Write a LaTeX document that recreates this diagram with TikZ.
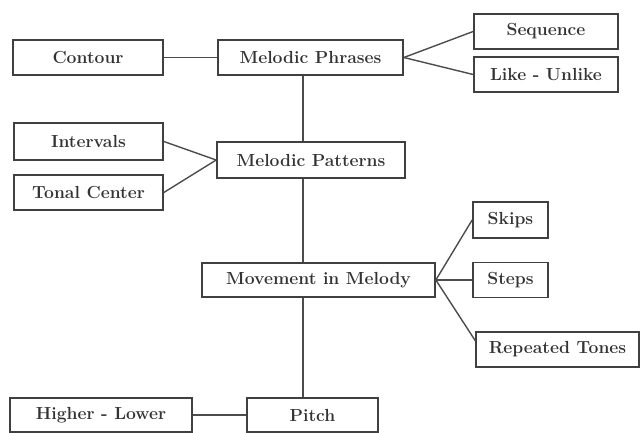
\documentclass[tikz,border=0pt]{standalone}
\usetikzlibrary{calc}
\begin{document}
\begin{tikzpicture}[x=1pt,y=-1pt,
  box/.style={draw=black!75, line width=1.7pt, rectangle, inner sep=0pt,
    font=\fontsize{17.5}{19}\selectfont\bfseries, text=black!80},
  link/.style={draw=black!70, line width=1.4pt}]
\useasboundingbox (0,0) rectangle (642,433);
\coordinate (spine) at (303,0);
\node[box, minimum width=150pt, minimum height=35pt] (contour) at (88,57.5) {Contour};
\node[box, minimum width=185pt, minimum height=35pt] (phr) at (310.5,57.5) {Melodic Phrases};
\node[box, minimum width=144pt, minimum height=35pt] (seq) at (546,31.5) {Sequence};
\node[box, minimum width=144pt, minimum height=35pt] (like) at (546,74.5) {Like - Unlike};
\node[box, minimum width=149pt, minimum height=37pt] (int) at (88.5,141.5) {Intervals};
\node[box, minimum width=149pt, minimum height=35pt] (tonal) at (88.5,192.5) {Tonal Center};
\node[box, minimum width=188pt, minimum height=36pt] (pat) at (311,160) {Melodic Patterns};
\node[box, minimum width=233pt, minimum height=34pt] (mov) at (318.5,280) {Movement in Melody};
\node[box, minimum width=75pt, minimum height=36pt] (skips) at (510.5,220) {Skips};
\node[box, minimum width=75pt, minimum height=35pt] (steps) at (510.5,280) {Steps};
\node[box, minimum width=163pt, minimum height=35pt] (rep) at (557.5,349.5) {Repeated Tones};
\node[box, minimum width=182pt, minimum height=34pt] (hl) at (101,415) {Higher - Lower};
\node[box, minimum width=131pt, minimum height=34pt] (pitch) at (312.5,415) {Pitch};

\draw[link] (contour.east) -- (phr.west);
\draw[link] (phr.east) -- (seq.west);
\draw[link] (phr.east) -- (like.west);
\draw[link] (phr.south -| spine) -- (pat.north -| spine);
\draw[link] (int.east) -- (pat.west);
\draw[link] (tonal.east) -- (pat.west);
\draw[link] (pat.south -| spine) -- (mov.north -| spine);
\draw[link] (mov.east) -- (skips.west);
\draw[link] (mov.east) -- (steps.west);
\draw[link] (mov.east) -- ([yshift=9pt]rep.west);
\draw[link] (mov.south -| spine) -- (pitch.north -| spine);
\draw[link] (hl.east) -- (pitch.west);
\end{tikzpicture}
\end{document}
